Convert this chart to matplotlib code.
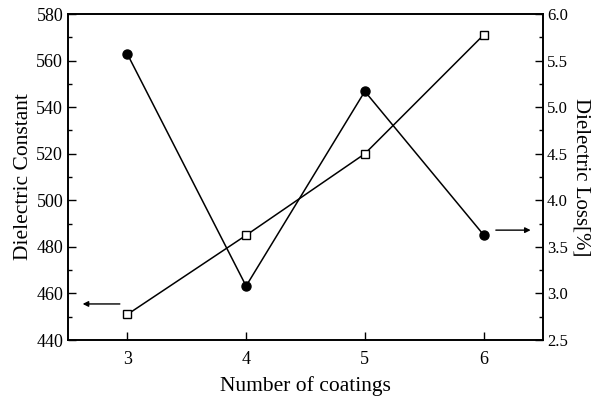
import matplotlib
matplotlib.use("Agg")
import matplotlib.pyplot as plt
from matplotlib.ticker import MultipleLocator

coatings = [3, 4, 5, 6]
dielectric_constant = [451, 485, 520, 571]
dielectric_loss = [5.57, 3.08, 5.17, 3.63]

plt.rcParams['font.family'] = ['Liberation Serif', 'DejaVu Serif']

fig = plt.figure(figsize=(6.05, 4.01), dpi=100)
ax = fig.add_axes([0.1124, 0.152, 0.785, 0.813])
ax2 = ax.twinx()

ax.plot(coatings, dielectric_constant, '-', color='black', lw=1.1,
        marker='s', ms=6, mfc='white', mec='black', mew=1.0, zorder=3)
ax2.plot(coatings, dielectric_loss, '-', color='black', lw=1.1,
         marker='o', ms=6.5, mfc='black', mec='black', zorder=3)

ax.set_xlim(2.5, 6.5)
ax.set_ylim(440, 580)
ax2.set_ylim(2.5, 6.0)

ax.set_xticks(coatings)
ax.yaxis.set_major_locator(MultipleLocator(20))
ax.yaxis.set_minor_locator(MultipleLocator(10))
ax2.yaxis.set_major_locator(MultipleLocator(0.5))
ax2.yaxis.set_minor_locator(MultipleLocator(0.25))
ax2.yaxis.set_major_formatter(matplotlib.ticker.FormatStrFormatter('%.1f'))

ax.tick_params(axis='both', which='major', direction='in', length=6, width=1, labelsize=13)
ax.tick_params(axis='y', which='minor', direction='in', length=3, width=1)
ax.tick_params(axis='x', pad=8)
ax2.tick_params(axis='y', which='major', direction='in', length=6, width=1, labelsize=12, pad=3)
ax2.tick_params(axis='y', which='minor', direction='in', length=3, width=1)

for a in (ax, ax2):
    for s in a.spines.values():
        s.set_linewidth(1.2)

ax.set_xlabel('Number of coatings', fontsize=15.5, labelpad=6)
ax.set_ylabel('Dielectric Constant', fontsize=15.5, labelpad=2)
ax2.set_ylabel('Dielectric Loss[%]', fontsize=15, rotation=270, labelpad=16)

ax.annotate('', xy=(2.6, 455.5), xytext=(2.96, 455.5),
            arrowprops=dict(arrowstyle='-|>', color='black', lw=1.0, mutation_scale=8))
ax2.annotate('', xy=(6.42, 3.68), xytext=(6.08, 3.68),
             arrowprops=dict(arrowstyle='-|>', color='black', lw=1.0, mutation_scale=8))

fig.savefig('out.png', dpi=100)
